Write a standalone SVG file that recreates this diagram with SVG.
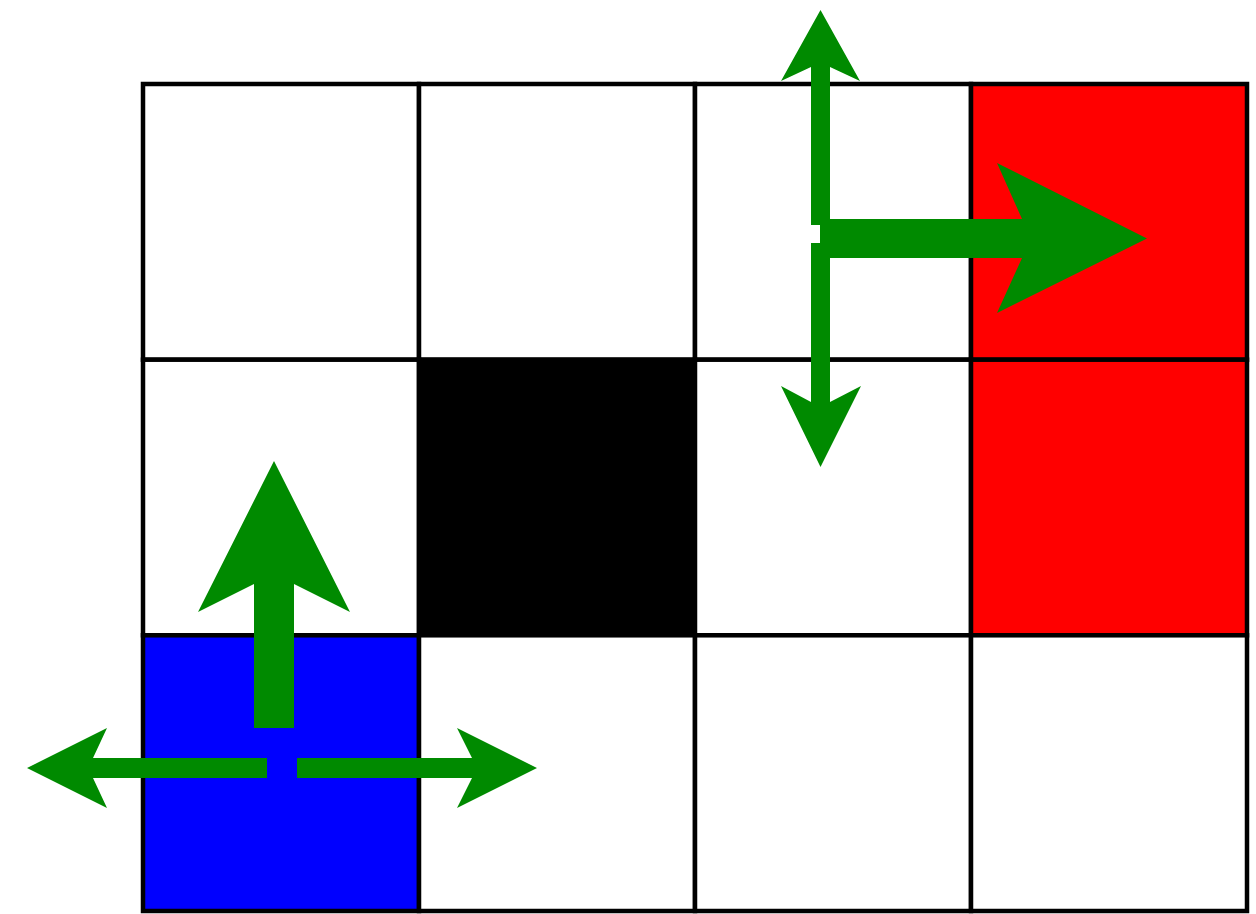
<svg xmlns="http://www.w3.org/2000/svg" width="1256" height="914" viewBox="0 0 1256 914">
  <style>
    .cell { stroke: #000000; stroke-width: 4.5; }
    .white { fill: #ffffff; }
    .red { fill: #ff0000; }
    .blue { fill: #0000ff; }
    .black { fill: #000000; }
    .arrow { fill: #008a00; stroke: none; }
  </style>
  <rect x="0" y="0" width="1256" height="914" fill="#ffffff"/>
  <g id="grid">
    <g id="cell-0-0"><rect class="cell white" x="143" y="84" width="276" height="275.7"/></g>
    <g id="cell-0-1"><rect class="cell white" x="419" y="84" width="276" height="275.7"/></g>
    <g id="cell-0-2"><rect class="cell white" x="695" y="84" width="276" height="275.7"/></g>
    <g id="cell-0-3"><rect class="cell red" x="971" y="84" width="276" height="275.7"/></g>
    <g id="cell-1-0"><rect class="cell white" x="143" y="359.7" width="276" height="275.6"/></g>
    <g id="cell-1-1"><rect class="cell black" x="419" y="359.7" width="276" height="275.6"/></g>
    <g id="cell-1-2"><rect class="cell white" x="695" y="359.7" width="276" height="275.6"/></g>
    <g id="cell-1-3"><rect class="cell red" x="971" y="359.7" width="276" height="275.6"/></g>
    <g id="cell-2-0"><rect class="cell blue" x="143" y="635.3" width="276" height="275.7"/></g>
    <g id="cell-2-1"><rect class="cell white" x="419" y="635.3" width="276" height="275.7"/></g>
    <g id="cell-2-2"><rect class="cell white" x="695" y="635.3" width="276" height="275.7"/></g>
    <g id="cell-2-3"><rect class="cell white" x="971" y="635.3" width="276" height="275.7"/></g>
  </g>
  <g id="connectors">
    <polygon class="arrow" points="811,225 811,67 781,81 820.5,10 860,81 830,67 830,225"/>
    <polygon class="arrow" points="811,243 811,402 781,386 820.5,467 861,386 830,402 830,243"/>
    <polygon class="arrow" points="820,219 1022,219 997,163 1147,238.5 997,313 1022,258 820,258"/>
    <polygon class="arrow" points="254,728 254,584 198,612 274,461 350,612 294,584 294,728"/>
    <polygon class="arrow" points="267,758 93,758 107,728 27,768 107,808 93,778 267,778"/>
    <polygon class="arrow" points="297,758 472,758 457,728 537,768 457,808 472,778 297,778"/>
  </g>
</svg>
